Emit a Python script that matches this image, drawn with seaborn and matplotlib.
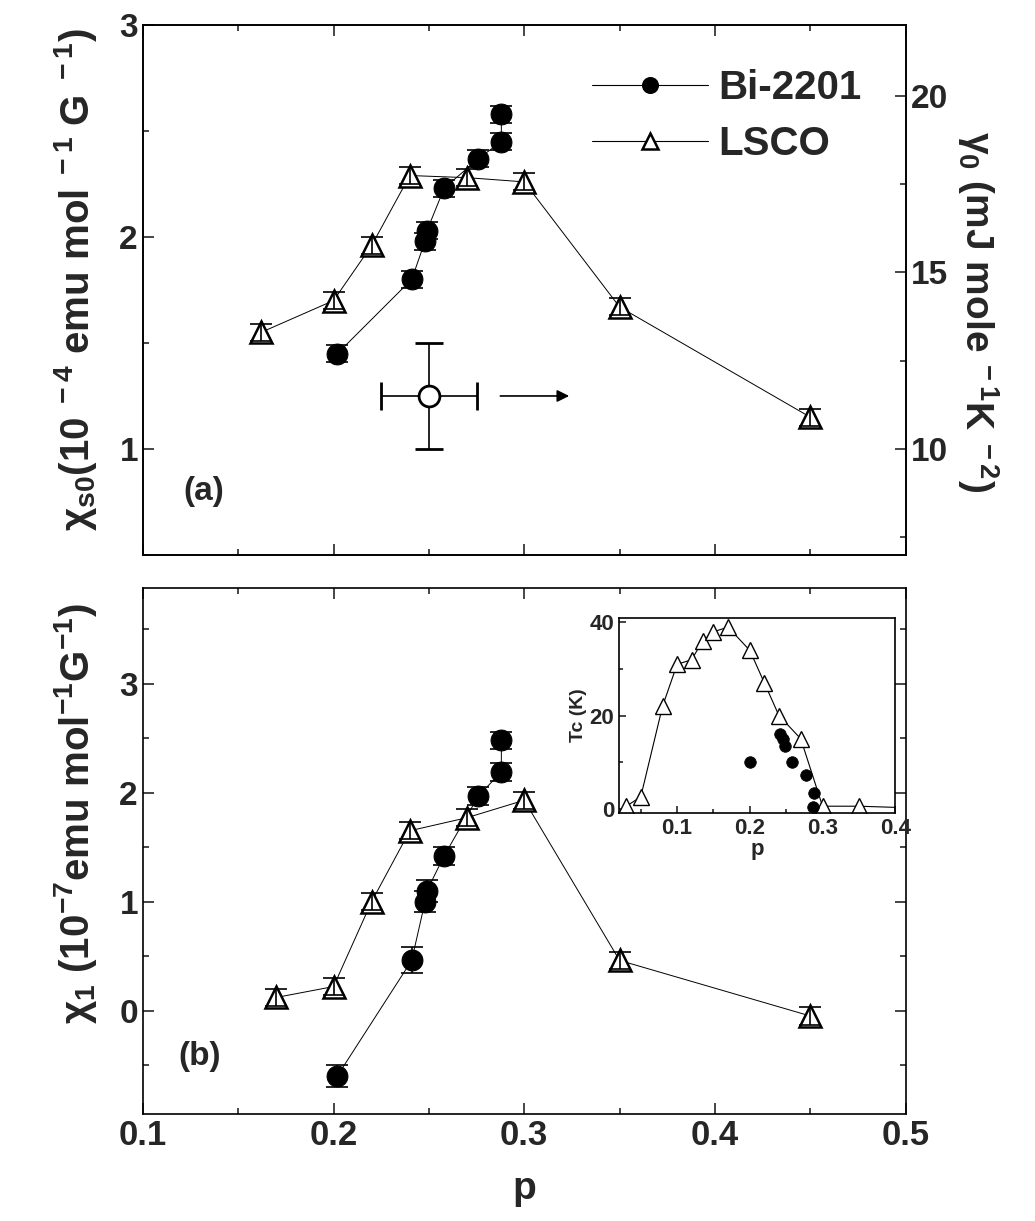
import numpy as np
import pandas as pd
import matplotlib
matplotlib.use('Agg')
import matplotlib.pyplot as plt
import seaborn as sns
from matplotlib.lines import Line2D
from matplotlib.ticker import MultipleLocator

sns.set_style('ticks')
plt.rcParams['font.family'] = ['Liberation Sans', 'DejaVu Sans']
plt.rcParams['font.weight'] = 'bold'
plt.rcParams['mathtext.fontset'] = 'custom'
plt.rcParams['mathtext.rm'] = 'Liberation Sans:bold'
plt.rcParams['mathtext.it'] = 'Liberation Sans:bold'
plt.rcParams['mathtext.bf'] = 'Liberation Sans:bold'
plt.rcParams['mathtext.default'] = 'rm'

# Bi-2201 (filled circles)
bi_p = [0.202, 0.241, 0.248, 0.249, 0.258, 0.276, 0.288, 0.288]
bi_chi_s0 = [1.45, 1.80, 1.98, 2.03, 2.23, 2.37, 2.45, 2.58]
bi_chi_s0_err = [0.04, 0.04, 0.04, 0.04, 0.04, 0.04, 0.04, 0.04]
bi_chi1 = [-0.60, 0.46, 1.00, 1.10, 1.42, 1.97, 2.19, 2.48]
bi_chi1_err = [0.10, 0.12, 0.10, 0.10, 0.08, 0.08, 0.08, 0.08]

# LSCO (open triangles)
lsco_p_a = [0.162, 0.20, 0.22, 0.24, 0.27, 0.30, 0.35, 0.45]
lsco_chi_s0 = [1.55, 1.70, 1.96, 2.29, 2.28, 2.26, 1.67, 1.15]
lsco_chi_s0_err = [0.04, 0.04, 0.04, 0.04, 0.04, 0.04, 0.04, 0.04]
lsco_p_b = [0.17, 0.20, 0.22, 0.24, 0.27, 0.30, 0.35, 0.45]
lsco_chi1 = [0.12, 0.22, 1.00, 1.65, 1.77, 1.93, 0.46, -0.05]
lsco_chi1_err = [0.08, 0.08, 0.08, 0.08, 0.08, 0.08, 0.08, 0.08]

# gamma_0 point (right axis of panel a)
gamma_p = [0.25]
gamma_p_err = [0.025]
gamma0 = [11.5]
gamma0_err = [1.5]

# inset: Tc vs p
lsco_tc_p = [0.03, 0.05, 0.08, 0.10, 0.12, 0.135, 0.15, 0.17, 0.20, 0.22, 0.24, 0.27, 0.30, 0.35, 0.45]
lsco_tc = [0.5, 2.5, 22, 31, 32, 36, 38, 39, 34, 27, 20, 15, 0.5, 0.5, 0]
bi_tc_p = [0.200, 0.241, 0.245, 0.249, 0.258, 0.277, 0.288, 0.287]
bi_tc = [10, 16, 15, 13.5, 10, 7.3, 3.3, 0.3]

line_kw = dict(color='black', linewidth=0.7, estimator=None, sort=False)
circle_kw = dict(marker='o', markersize=15, markerfacecolor='black', markeredgecolor='black')
tri_kw = dict(marker='^', markersize=16, markerfacecolor='white', markeredgecolor='black',
              markeredgewidth=1.8)


def style_axis(ax, labelsize=24):
    ax.tick_params(which='both', direction='in', width=1.2, labelsize=labelsize)
    ax.tick_params(which='major', length=8)
    ax.tick_params(which='minor', length=4)
    for s in ax.spines.values():
        s.set_linewidth(1.2)
        s.set_color('black')
    for lab in ax.get_xticklabels() + ax.get_yticklabels():
        lab.set_fontweight('bold')


fig = plt.figure(figsize=(10.35, 12.21), dpi=100)
ax_a = fig.add_axes([0.138, 0.5455, 0.737, 0.434])
ax_b = fig.add_axes([0.138, 0.0876, 0.737, 0.431])

# ---------- panel (a)
sns.lineplot(x=bi_p, y=bi_chi_s0, ax=ax_a, **line_kw, **circle_kw)
ax_a.errorbar(bi_p, bi_chi_s0, yerr=bi_chi_s0_err, fmt='none', ecolor='black',
              elinewidth=1.2, capsize=8, capthick=1.2)
sns.lineplot(x=lsco_p_a, y=lsco_chi_s0, ax=ax_a, **line_kw, **tri_kw)
ax_a.errorbar(lsco_p_a, lsco_chi_s0, yerr=lsco_chi_s0_err, fmt='none', ecolor='black',
              elinewidth=1.2, capsize=8, capthick=1.2)
ax_a.set_xlim(0.1, 0.5)
ax_a.set_ylim(0.5, 3.0)
ax_a.xaxis.set_major_locator(MultipleLocator(0.1))
ax_a.xaxis.set_minor_locator(MultipleLocator(0.05))
ax_a.yaxis.set_major_locator(MultipleLocator(1))
ax_a.yaxis.set_minor_locator(MultipleLocator(0.5))
ax_a.tick_params(which='both', top=True, right=False, labelbottom=False)
ax_a.set_ylabel(r'χ$_{s0}$(10$^{\ -4}$ emu mol$^{\ -1}$ G$^{\ -1}$)', fontsize=29,
                fontweight='bold', va='center')
ax_a.yaxis.set_label_coords(-0.088, 0.52)
style_axis(ax_a)
ax_a.text(0.08, 0.12, '(a)', transform=ax_a.transAxes, fontsize=24, fontweight='bold',
          ha='center', va='center')

ax_g = ax_a.twinx()
ax_g.set_ylim(7, 22)
ax_g.yaxis.set_major_locator(MultipleLocator(5))
ax_g.yaxis.set_minor_locator(MultipleLocator(2.5))
ax_g.errorbar(gamma_p, gamma0, xerr=gamma_p_err, yerr=gamma0_err, fmt='o', color='black',
              markerfacecolor='white', markeredgecolor='black', markersize=15,
              markeredgewidth=2, elinewidth=1.2, capsize=10, capthick=1.2)
ax_g.annotate('', xy=(0.325, gamma0[0]), xytext=(0.286, gamma0[0]),
              arrowprops=dict(arrowstyle='-|>', color='black', lw=1.2, mutation_scale=18))
ax_g.set_ylabel(r'γ$_0$ (mJ mole$^{\ -1}$K$^{\ -2}$)', fontsize=28, fontweight='bold',
                rotation=270, va='center', ha='center')
ax_g.yaxis.set_label_coords(1.095, 0.46)
style_axis(ax_g)
ax_g.tick_params(which='both', left=False, right=True)

handles = [Line2D([], [], color='black', linewidth=0.8, **circle_kw),
           Line2D([], [], color='black', linewidth=0.8, **tri_kw)]
ax_a.legend(handles, ['Bi-2201', 'LSCO'], loc='upper right', bbox_to_anchor=(0.99, 0.985),
            frameon=False, handlelength=2.9, handletextpad=0.25, labelspacing=0.45,
            prop={'size': 29, 'weight': 'bold'}, markerscale=0.75)

# ---------- panel (b)
sns.lineplot(x=bi_p, y=bi_chi1, ax=ax_b, **line_kw, **circle_kw)
ax_b.errorbar(bi_p, bi_chi1, yerr=bi_chi1_err, fmt='none', ecolor='black',
              elinewidth=1.2, capsize=8, capthick=1.2)
sns.lineplot(x=lsco_p_b, y=lsco_chi1, ax=ax_b, **line_kw, **tri_kw)
ax_b.errorbar(lsco_p_b, lsco_chi1, yerr=lsco_chi1_err, fmt='none', ecolor='black',
              elinewidth=1.2, capsize=8, capthick=1.2)
ax_b.set_xlim(0.1, 0.5)
ax_b.set_ylim(-0.95, 3.88)
ax_b.xaxis.set_major_locator(MultipleLocator(0.1))
ax_b.xaxis.set_minor_locator(MultipleLocator(0.05))
ax_b.yaxis.set_major_locator(MultipleLocator(1))
ax_b.yaxis.set_minor_locator(MultipleLocator(0.5))
ax_b.tick_params(which='both', top=True, right=True)
ax_b.set_xlabel('p', fontsize=28, fontweight='bold', labelpad=14)
ax_b.set_ylabel(r'χ$_1$ (10$^{-7}$emu mol$^{-1}$G$^{-1}$)', fontsize=29, fontweight='bold',
                va='center')
ax_b.yaxis.set_label_coords(-0.088, 0.57)
style_axis(ax_b)
ax_b.set_xticks([0.1, 0.2, 0.3, 0.4, 0.5])
ax_b.set_xticklabels(['0.1', '0.2', '0.3', '0.4', '0.5'], fontweight='bold', fontsize=25)
ax_b.text(0.075, 0.11, '(b)', transform=ax_b.transAxes, fontsize=24, fontweight='bold',
          ha='center', va='center')

# ---------- inset
ax_in = fig.add_axes([0.598, 0.334, 0.267, 0.160])
sns.lineplot(x=lsco_tc_p, y=lsco_tc, ax=ax_in, color='black', linewidth=0.8,
             estimator=None, sort=False, marker='^', markersize=12,
             markerfacecolor='white', markeredgecolor='black', markeredgewidth=1.0)
sns.scatterplot(x=bi_tc_p, y=bi_tc, ax=ax_in, color='black', s=70, marker='o',
                edgecolor='black', linewidth=0.5, zorder=3)
ax_in.set_xlim(0.02, 0.40)
ax_in.set_ylim(-1, 41)
ax_in.xaxis.set_major_locator(MultipleLocator(0.1))
ax_in.xaxis.set_minor_locator(MultipleLocator(0.05))
ax_in.yaxis.set_major_locator(MultipleLocator(20))
ax_in.yaxis.set_minor_locator(MultipleLocator(10))
ax_in.set_xlabel('p', fontsize=16, fontweight='bold', labelpad=0)
ax_in.set_ylabel('Tc (K)', fontsize=14, fontweight='bold', labelpad=2)
style_axis(ax_in, labelsize=16)
ax_in.tick_params(which='major', length=5)
ax_in.tick_params(which='minor', length=3)

fig.savefig('out.png', dpi=100, facecolor='white')
